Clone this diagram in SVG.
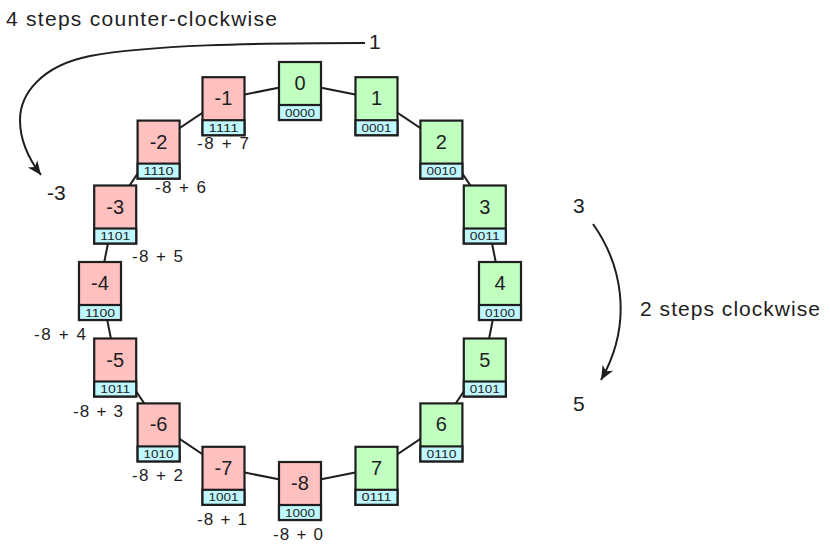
<svg xmlns="http://www.w3.org/2000/svg" width="830" height="553" viewBox="0 0 830 553">
<style>
text{font-family:"Liberation Sans",Arial,sans-serif;fill:#1e1e1e}
.box{stroke:#1e1e1e;stroke-width:2.2}
.neg{fill:#ffc0c0}
.pos{fill:#c0ffc0}
.bits{fill:#c0f8ff}
.num{font-size:20px;text-anchor:middle}
.bin{font-size:11px;text-anchor:middle}
.lab{font-size:17px}
.big{font-size:21px}
.edge{stroke:#1e1e1e;stroke-width:2;fill:none}
.arr{stroke:#1e1e1e;stroke-width:2;fill:none;marker-end:url(#ah)}
</style>
<defs>
<marker id="ah" markerUnits="userSpaceOnUse" markerWidth="20" markerHeight="20" refX="14" refY="7" orient="auto">
<path d="M0,1 L14,7 L0,13 L4,7 Z" fill="#1e1e1e"/>
</marker>
</defs>
<rect width="830" height="553" fill="#ffffff"/>
<g id="connectors">
<path class="edge" d="M300,83.5 L376.5,98.7 L441.4,142.1 L484.8,207 L500,283.5 L484.8,360 L441.4,424.9 L376.5,468.3 L300,483.5 L223.5,468.3 L158.6,424.9 L115.2,360 L100,283.5 L115.2,207 L158.6,142.1 L223.5,98.7 Z"/>
<path class="arr" d="M365,43 C250,43 150,45 90,56 C40,66 20,95 20,120 C20,140 28,158 41,175"/>
<path class="arr" d="M593,224 C620,262 635,320 601,380"/>
</g>
<g id="n0" transform="translate(300,91)"><rect class="box pos" x="-21" y="-29" width="42" height="58"/><rect class="box bits" x="-21" y="14" width="42" height="15"/><text class="num" y="-1">0</text><text class="bin" y="25.5" textLength="30" lengthAdjust="spacingAndGlyphs">0000</text></g>
<g id="n1" transform="translate(376.5,106.2)"><rect class="box pos" x="-21" y="-29" width="42" height="58"/><rect class="box bits" x="-21" y="14" width="42" height="15"/><text class="num" y="-1">1</text><text class="bin" y="25.5" textLength="30" lengthAdjust="spacingAndGlyphs">0001</text></g>
<g id="n2" transform="translate(441.4,149.6)"><rect class="box pos" x="-21" y="-29" width="42" height="58"/><rect class="box bits" x="-21" y="14" width="42" height="15"/><text class="num" y="-1">2</text><text class="bin" y="25.5" textLength="30" lengthAdjust="spacingAndGlyphs">0010</text></g>
<g id="n3" transform="translate(484.8,214.5)"><rect class="box pos" x="-21" y="-29" width="42" height="58"/><rect class="box bits" x="-21" y="14" width="42" height="15"/><text class="num" y="-1">3</text><text class="bin" y="25.5" textLength="30" lengthAdjust="spacingAndGlyphs">0011</text></g>
<g id="n4" transform="translate(500,291)"><rect class="box pos" x="-21" y="-29" width="42" height="58"/><rect class="box bits" x="-21" y="14" width="42" height="15"/><text class="num" y="-1">4</text><text class="bin" y="25.5" textLength="30" lengthAdjust="spacingAndGlyphs">0100</text></g>
<g id="n5" transform="translate(484.8,367.5)"><rect class="box pos" x="-21" y="-29" width="42" height="58"/><rect class="box bits" x="-21" y="14" width="42" height="15"/><text class="num" y="-1">5</text><text class="bin" y="25.5" textLength="30" lengthAdjust="spacingAndGlyphs">0101</text></g>
<g id="n6" transform="translate(441.4,432.4)"><rect class="box pos" x="-21" y="-29" width="42" height="58"/><rect class="box bits" x="-21" y="14" width="42" height="15"/><text class="num" y="-1">6</text><text class="bin" y="25.5" textLength="30" lengthAdjust="spacingAndGlyphs">0110</text></g>
<g id="n7" transform="translate(376.5,475.8)"><rect class="box pos" x="-21" y="-29" width="42" height="58"/><rect class="box bits" x="-21" y="14" width="42" height="15"/><text class="num" y="-1">7</text><text class="bin" y="25.5" textLength="30" lengthAdjust="spacingAndGlyphs">0111</text></g>
<g id="nm8" transform="translate(300,491)"><rect class="box neg" x="-21" y="-29" width="42" height="58"/><rect class="box bits" x="-21" y="14" width="42" height="15"/><text class="num" y="-1">-8</text><text class="bin" y="25.5" textLength="30" lengthAdjust="spacingAndGlyphs">1000</text></g>
<g id="nm7" transform="translate(223.5,475.8)"><rect class="box neg" x="-21" y="-29" width="42" height="58"/><rect class="box bits" x="-21" y="14" width="42" height="15"/><text class="num" y="-1">-7</text><text class="bin" y="25.5" textLength="30" lengthAdjust="spacingAndGlyphs">1001</text></g>
<g id="nm6" transform="translate(158.6,432.4)"><rect class="box neg" x="-21" y="-29" width="42" height="58"/><rect class="box bits" x="-21" y="14" width="42" height="15"/><text class="num" y="-1">-6</text><text class="bin" y="25.5" textLength="30" lengthAdjust="spacingAndGlyphs">1010</text></g>
<g id="nm5" transform="translate(115.2,367.5)"><rect class="box neg" x="-21" y="-29" width="42" height="58"/><rect class="box bits" x="-21" y="14" width="42" height="15"/><text class="num" y="-1">-5</text><text class="bin" y="25.5" textLength="30" lengthAdjust="spacingAndGlyphs">1011</text></g>
<g id="nm4" transform="translate(100,291)"><rect class="box neg" x="-21" y="-29" width="42" height="58"/><rect class="box bits" x="-21" y="14" width="42" height="15"/><text class="num" y="-1">-4</text><text class="bin" y="25.5" textLength="30" lengthAdjust="spacingAndGlyphs">1100</text></g>
<g id="nm3" transform="translate(115.2,214.5)"><rect class="box neg" x="-21" y="-29" width="42" height="58"/><rect class="box bits" x="-21" y="14" width="42" height="15"/><text class="num" y="-1">-3</text><text class="bin" y="25.5" textLength="30" lengthAdjust="spacingAndGlyphs">1101</text></g>
<g id="nm2" transform="translate(158.6,149.6)"><rect class="box neg" x="-21" y="-29" width="42" height="58"/><rect class="box bits" x="-21" y="14" width="42" height="15"/><text class="num" y="-1">-2</text><text class="bin" y="25.5" textLength="30" lengthAdjust="spacingAndGlyphs">1110</text></g>
<g id="nm1" transform="translate(223.5,106.2)"><rect class="box neg" x="-21" y="-29" width="42" height="58"/><rect class="box bits" x="-21" y="14" width="42" height="15"/><text class="num" y="-1">-1</text><text class="bin" y="25.5" textLength="30" lengthAdjust="spacingAndGlyphs">1111</text></g>
<g id="labels">
<text class="lab" x="197" y="149" textLength="52">-8 + 7</text>
<text class="lab" x="155" y="193" textLength="51">-8 + 6</text>
<text class="lab" x="132" y="262" textLength="51">-8 + 5</text>
<text class="lab" x="34" y="340" textLength="52">-8 + 4</text>
<text class="lab" x="73" y="417" textLength="50">-8 + 3</text>
<text class="lab" x="132" y="481" textLength="51">-8 + 2</text>
<text class="lab" x="197" y="525" textLength="50">-8 + 1</text>
<text class="lab" x="273" y="540" textLength="50">-8 + 0</text>
<text class="big" x="6" y="26" textLength="271">4 steps counter-clockwise</text>
<text class="big" x="369" y="49">1</text>
<text class="big" x="47" y="200">-3</text>
<text class="big" x="573" y="213">3</text>
<text class="big" x="573" y="411">5</text>
<text class="big" x="640" y="316" textLength="180">2 steps clockwise</text>
</g>
</svg>
